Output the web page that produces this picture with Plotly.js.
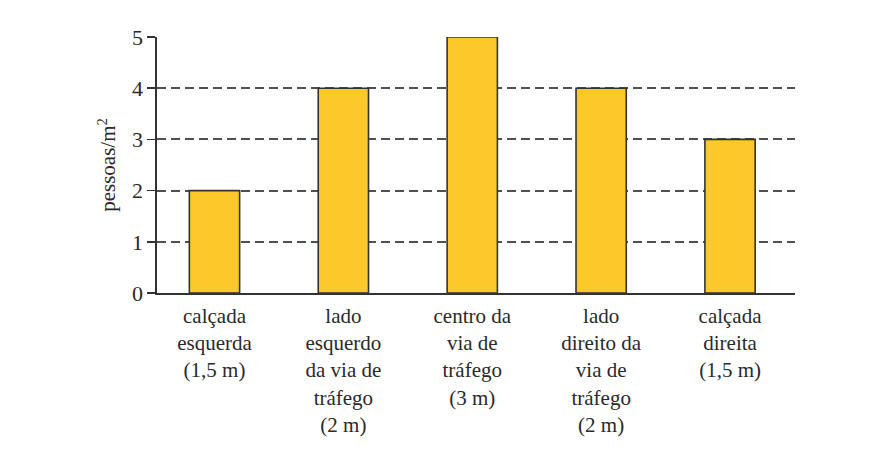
<!DOCTYPE html>
<html>
<head>
<meta charset="utf-8">
<script src="https://cdn.plot.ly/plotly-3.0.1.min.js"></script>
<style>
	body { margin: 0; background: #fff; }
	#graph { width: 875px; height: 467px; }
</style>
</head>
<body>
<div id="graph"></div>
<script>
// Densidade de pessoas por faixa da via

const categorias = [
	"calçada<br>esquerda<br>(1,5 m)",
	"lado<br>esquerdo<br>da via de<br>tráfego<br>(2 m)",
	"centro da<br>via de<br>tráfego<br>(3 m)",
	"lado<br>direito da<br>via de<br>tráfego<br>(2 m)",
	"calçada<br>direita<br>(1,5 m)",
];
const densidade = [2, 4, 5, 4, 3];
const yTicks = [0, 1, 2, 3, 4, 5];

const serif = "Times New Roman";

let data = [
		{
			x: categorias,
			y: densidade,
			type: "bar",
			width: 0.39,
			marker: {
				color: "#fdc82a",
				line: { color: "#333333", width: 1.6 },
			},
			hoverinfo: "none",
		},
	],
	layout = {
		paper_bgcolor: "#ffffff",
		plot_bgcolor: "#ffffff",
		showlegend: false,
		margin: { l: 157, r: 80, t: 37, b: 174, pad: 0 },
		font: { family: serif, color: "#2a2a2a", size: 21 },
		xaxis: {
			type: "category",
			range: [-0.446, 4.504],
			showgrid: false,
			showline: true,
			linecolor: "#333333",
			linewidth: 1.6,
			ticks: "",
			ticklabelstandoff: 3,
			tickfont: { family: serif, size: 21, color: "#2a2a2a" },
			zeroline: false,
			fixedrange: true,
		},
		yaxis: {
			range: [0, 5],
			tickvals: yTicks,
			ticktext: yTicks.map(String),
			showline: true,
			linecolor: "#333333",
			linewidth: 1.6,
			ticks: "outside",
			ticklen: 8,
			tickwidth: 1.6,
			tickcolor: "#333333",
			showgrid: true,
			gridcolor: "#505050",
			gridwidth: 2,
			griddash: "9px,5px",
			zeroline: false,
			tickfont: { family: serif, size: 22, color: "#2a2a2a" },
			title: {
				text: "pessoas/m<sup>2</sup>",
				font: { family: serif, size: 21, color: "#2a2a2a" },
				standoff: 10,
			},
			fixedrange: true,
		},
		width: 875,
		height: 467,
	};

Plotly.newPlot("graph", data, layout, { displayModeBar: false, staticPlot: true });
</script>
</body>
</html>
